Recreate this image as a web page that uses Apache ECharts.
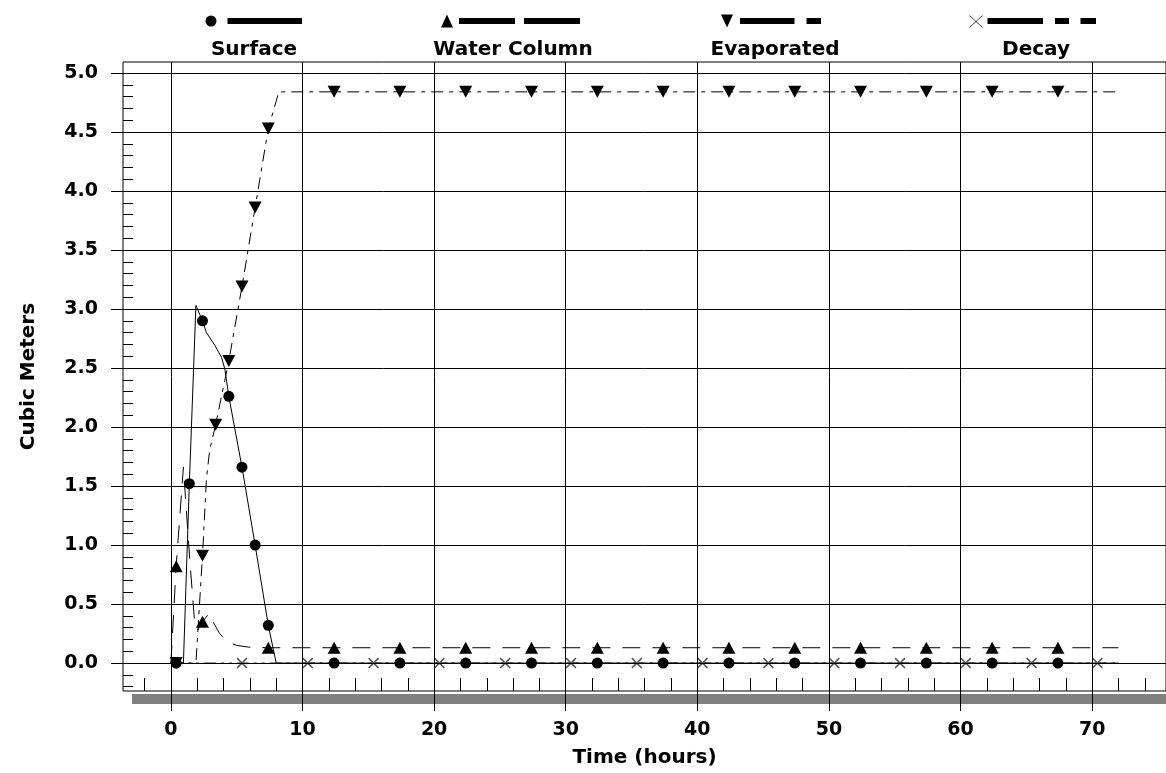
<!DOCTYPE html>
<html>
<head>
<meta charset="utf-8">
<script src="https://cdn.jsdelivr.net/npm/echarts@6/dist/echarts.min.js"></script>
<style>
  html, body { margin: 0; padding: 0; background: #fff; }
  #main { width: 1166px; height: 773px; }
</style>
</head>
<body>
<div id="main"></div>
<script>
// 曲线数据 [小时, 立方米]
const surfaceLine = [
  [0, 0], [0.4, 0], [0.95, 0], [1.4, 1.52], [1.9, 3.03], [2.4, 2.9], [2.7, 2.8],
  [3.35, 2.69], [3.85, 2.59], [4.1, 2.49], [4.4, 2.26], [5.4, 1.66], [6.4, 1.0],
  [7.4, 0.32], [8.0, 0], [72, 0],
];
const waterLine = [
  [0, 0], [0.4, 0.82], [0.95, 1.66], [1.2, 1.25], [1.45, 0.85], [1.8, 0.35],
  [2.05, 0.28], [2.4, 0.35], [2.9, 0.42], [3.3, 0.33], [3.7, 0.25], [4.3, 0.18],
  [5.0, 0.15], [5.9, 0.135], [7.4, 0.13], [72, 0.13],
];
const evapLine = [
  [0, 0], [0.4, 0], [1.9, 0], [2.4, 0.91], [2.7, 1.56], [2.95, 1.81], [3.4, 2.02],
  [4.4, 2.56], [5.4, 3.19], [6.4, 3.86], [7.4, 4.53], [8.2, 4.84], [72, 4.84],
];
const decayLine = [[0, 0], [72, 0]];

// 标记点
const surfaceMarks = [
  [0.4, 0], [1.4, 1.52], [2.4, 2.9], [4.4, 2.26], [5.4, 1.66], [6.4, 1.0], [7.4, 0.32],
  [12.4, 0], [17.4, 0], [22.4, 0], [27.4, 0], [32.4, 0], [37.4, 0],
  [42.4, 0], [47.4, 0], [52.4, 0], [57.4, 0], [62.4, 0], [67.4, 0],
];
const waterMarks = [
  [0.4, 0.82], [2.4, 0.35], [7.4, 0.13],
  [12.4, 0.13], [17.4, 0.13], [22.4, 0.13], [27.4, 0.13], [32.4, 0.13], [37.4, 0.13],
  [42.4, 0.13], [47.4, 0.13], [52.4, 0.13], [57.4, 0.13], [62.4, 0.13], [67.4, 0.13],
];
const evapMarks = [
  [0.4, 0], [2.4, 0.91], [3.4, 2.02], [4.4, 2.56], [5.4, 3.19], [6.4, 3.86], [7.4, 4.53],
  [12.4, 4.84], [17.4, 4.84], [22.4, 4.84], [27.4, 4.84], [32.4, 4.84], [37.4, 4.84],
  [42.4, 4.84], [47.4, 4.84], [52.4, 4.84], [57.4, 4.84], [62.4, 4.84], [67.4, 4.84],
];
const decayMarks = [
  [5.4, 0], [10.4, 0], [15.4, 0], [20.4, 0], [25.4, 0], [30.4, 0], [35.4, 0],
  [40.4, 0], [45.4, 0], [50.4, 0], [55.4, 0], [60.4, 0], [65.4, 0], [70.4, 0],
];

// 刻度
const xMajor = [0, 10, 20, 30, 40, 50, 60, 70];
const xMinor = [-2, 2, 4, 6, 8, 12, 14, 16, 18, 22, 24, 26, 28, 32, 34, 36, 38,
  42, 44, 46, 48, 52, 54, 56, 58, 62, 64, 66, 68, 72, 74];
const yMajor = [0, 0.5, 1, 1.5, 2, 2.5, 3, 3.5, 4, 4.5, 5];
const yMinor = [-0.2, -0.1, 0.1, 0.2, 0.3, 0.4, 0.6, 0.7, 0.8, 0.9, 1.1, 1.2, 1.3, 1.4,
  1.6, 1.7, 1.8, 1.9, 2.1, 2.2, 2.3, 2.4, 2.6, 2.7, 2.8, 2.9, 3.1, 3.2, 3.3, 3.4,
  3.6, 3.7, 3.8, 3.9, 4.1, 4.2, 4.3, 4.4, 4.6, 4.7, 4.8, 4.9];

const legendNames = ["Surface", "Water Column", "Evaporated", "Decay"];

const FONT = "DejaVu Sans";
const X_MIN = -3.64, X_MAX = 75.61;
const Y_MIN = -0.2365, Y_MAX = 5.093;

var myChart = echarts.init(document.getElementById("main"));

const bar = (x, w) => ({
  type: "rect", shape: { x: x, y: 18, width: w, height: 6 },
  style: { fill: "#000" },
});
const legendText = (cx, text) => ({
  type: "text", x: cx, y: 50,
  style: {
    text: text, fill: "#000", font: "bold 20px " + FONT,
    align: "center", verticalAlign: "middle",
  },
});
const noLine = { show: false, onZero: false };

var option = {
  animation: false,
  backgroundColor: "#fff",
  grid: {
    left: 123, top: 62, width: 1045, height: 631,
    show: true, borderColor: "#000", borderWidth: 1,
    backgroundColor: "transparent",
  },
  xAxis: [
    {
      type: "value", min: X_MIN, max: X_MAX, position: "bottom", z: 5,
      axisLine: noLine,
      axisTick: { customValues: xMajor, inside: false, length: 20, lineStyle: { color: "#000" } },
      axisLabel: {
        customValues: xMajor, margin: 30, color: "#000",
        fontFamily: FONT, fontWeight: "bold", fontSize: 19,
      },
      splitLine: { show: true, lineStyle: { color: "#000", width: 1 } },
      name: "Time (hours)", nameLocation: "middle", nameGap: 57,
      nameTextStyle: { color: "#000", fontFamily: FONT, fontWeight: "bold", fontSize: 20 },
    },
    {
      type: "value", min: X_MIN, max: X_MAX, position: "bottom", z: 5,
      axisLine: noLine,
      axisTick: { customValues: xMinor, inside: true, length: 13, lineStyle: { color: "#000" } },
      axisLabel: { show: false },
      splitLine: { show: false },
    },
  ],
  yAxis: [
    {
      type: "value", min: Y_MIN, max: Y_MAX, position: "left", z: 5,
      axisLine: noLine,
      axisTick: { customValues: yMajor, inside: false, length: 12, lineStyle: { color: "#000" } },
      axisLabel: {
        customValues: yMajor, margin: 25, color: "#000",
        fontFamily: FONT, fontWeight: "bold", fontSize: 19,
        formatter: (v) => v.toFixed(1),
      },
      splitLine: { show: true, lineStyle: { color: "#000", width: 1 } },
      name: "Cubic Meters", nameLocation: "middle", nameGap: 84, nameRotate: 90,
      nameTextStyle: { color: "#000", fontFamily: FONT, fontWeight: "bold", fontSize: 20 },
    },
    {
      type: "value", min: Y_MIN, max: Y_MAX, position: "left", z: 5,
      axisLine: noLine,
      axisTick: { customValues: yMinor, inside: true, length: 10, lineStyle: { color: "#000" } },
      axisLabel: { show: false },
      splitLine: { show: false },
    },
  ],
  graphic: {
    elements: [
      // 底部灰色阴影条
      { type: "rect", z: -1, shape: { x: 132, y: 694, width: 1040, height: 10 }, style: { fill: "#808080" } },
      // 图例
      { type: "circle", shape: { cx: 211, cy: 21, r: 5.5 }, style: { fill: "#000" } },
      bar(227.5, 74.5),
      { type: "polygon", shape: { points: [[441, 27.5], [453, 27.5], [447, 14.5]] }, style: { fill: "#000" } },
      bar(459, 56), bar(524, 56),
      { type: "polygon", shape: { points: [[721, 14.5], [733, 14.5], [727, 27.5]] }, style: { fill: "#000" } },
      bar(740, 54.5), bar(806.5, 14.5),
      { type: "polyline", shape: { points: [[969.5, 15.5], [982.5, 27.5]] }, style: { stroke: "#444", lineWidth: 1 } },
      { type: "polyline", shape: { points: [[982.5, 15.5], [969.5, 27.5]] }, style: { stroke: "#444", lineWidth: 1 } },
      bar(987.5, 55.5), bar(1055, 14), bar(1080.5, 15.5),
      legendText(254, legendNames[0]),
      legendText(513, legendNames[1]),
      legendText(775, legendNames[2]),
      legendText(1036, legendNames[3]),
    ],
  },
  series: [
    {
      name: legendNames[0], type: "line", data: surfaceLine, symbol: "none",
      lineStyle: { color: "#000", width: 1, type: "solid" }, z: 3,
    },
    {
      name: legendNames[1], type: "line", data: waterLine, symbol: "none",
      lineStyle: { color: "#000", width: 1, type: [18, 12] }, z: 3,
    },
    {
      name: legendNames[2], type: "line", data: evapLine, symbol: "none",
      lineStyle: { color: "#000", width: 1, type: [12, 6, 4, 6] }, z: 3,
    },
    {
      name: legendNames[3], type: "line", data: decayLine, symbol: "none",
      lineStyle: { color: "#000", width: 1, type: [12, 5, 3, 5, 3, 5] }, z: 3,
    },
    {
      type: "scatter", data: surfaceMarks, symbol: "circle", symbolSize: 11,
      itemStyle: { color: "#000", opacity: 1 }, silent: true, z: 4,
    },
    {
      type: "scatter", data: waterMarks, symbol: "triangle", symbolSize: [13, 12],
      itemStyle: { color: "#000", opacity: 1 }, silent: true, z: 4,
    },
    {
      type: "scatter", data: evapMarks, symbol: "triangle", symbolRotate: 180, symbolSize: [13, 12],
      itemStyle: { color: "#000", opacity: 1 }, silent: true, z: 4,
    },
    {
      type: "scatter", data: decayMarks,
      symbol: "path://M0,1L1,0L5,4L9,0L10,1L6,5L10,9L9,10L5,6L1,10L0,9L4,5Z",
      symbolSize: 11, itemStyle: { color: "#555", opacity: 1 }, silent: true, z: 4,
    },
  ],
};

myChart.setOption(option);
</script>
</body>
</html>
